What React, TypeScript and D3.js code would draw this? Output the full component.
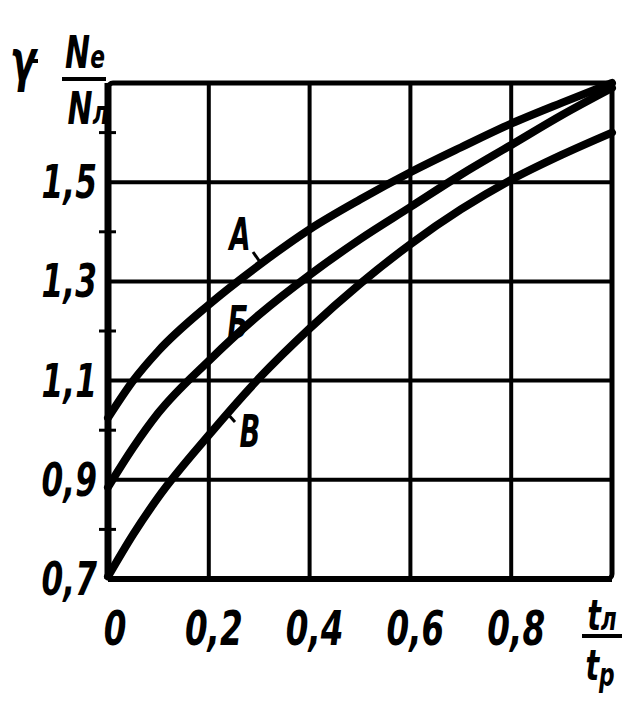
import React from 'react';
import * as d3 from 'd3';

// Relative time share t_л / t_р
const xValues = [0, 0.05, 0.1, 0.2, 0.3, 0.4, 0.5, 0.6, 0.7, 0.8, 0.9, 1.0];
// γ = Ne / Nл for each curve
const curveA = [1.025, 1.1, 1.16, 1.253, 1.333, 1.405, 1.465, 1.52, 1.57, 1.618, 1.66, 1.70];
const curveB6 = [0.885, 0.965, 1.035, 1.14, 1.233, 1.313, 1.385, 1.45, 1.515, 1.575, 1.635, 1.69];
const curveV = [0.705, 0.79, 0.865, 0.99, 1.105, 1.205, 1.295, 1.375, 1.445, 1.505, 1.555, 1.6];

const xTicks = [0, 0.2, 0.4, 0.6, 0.8, 1.0];
const xTickLabels = ['0', '0,2', '0,4', '0,6', '0,8'];
const yTicks = [0.7, 0.9, 1.1, 1.3, 1.5, 1.7];
const yTickLabels = ['0,7', '0,9', '1,1', '1,3', '1,5'];
const yMinorTicks = [0.8, 1.0, 1.2, 1.4, 1.6];

const series = [
  { name: 'A', values: curveA },
  { name: 'Б', values: curveB6 },
  { name: 'В', values: curveV },
];

const W = 644;
const H = 717;

const font = {
  fontFamily: '"DejaVu Sans", sans-serif',
  fontWeight: 'bold' as const,
  fontStyle: 'italic' as const,
};

// condensed italic text like the old print
const Txt: React.FC<{ x: number; y: number; size: number; anchor?: string; sx?: number; children: React.ReactNode }> = ({ x, y, size, anchor = 'middle', sx = 0.68, children }) => (
  <text
    transform={`translate(${x},${y}) scale(${sx},1)`}
    fontSize={size}
    textAnchor={anchor}
    fill="#000"
    style={font}
  >
    {children}
  </text>
);

const App: React.FC = () => {
  const x = d3.scaleLinear().domain([0, 1]).range([108, 612]);
  const y = d3.scaleLinear().domain([0.7, 1.7]).range([579, 83]);

  const line = d3
    .line<number>()
    .x((_, i) => x(xValues[i]))
    .y((d) => y(d))
    .curve(d3.curveMonotoneX);

  return (
    <div style={{ position: 'absolute', left: 0, top: 0, background: '#fff' }}>
      <svg width={W} height={H} style={{ display: 'block' }}>
        <rect width={W} height={H} fill="#fff" />

        {/* grid */}
        <g stroke="#000" strokeWidth={4}>
          {xTicks.slice(1, -1).map((t) => (
            <line key={'gx' + t} x1={x(t)} x2={x(t)} y1={y(1.7)} y2={y(0.7)} />
          ))}
          {yTicks.slice(1, -1).map((t) => (
            <line key={'gy' + t} x1={x(0)} x2={x(1)} y1={y(t)} y2={y(t)} />
          ))}
        </g>

        {/* frame */}
        <rect
          x={x(0)}
          y={y(1.7)}
          width={x(1) - x(0)}
          height={y(0.7) - y(1.7)}
          rx={5}
          fill="none"
          stroke="#000"
          strokeWidth={5}
        />
        <line x1={x(0)} x2={x(0)} y1={y(1.7)} y2={y(0.7)} stroke="#000" strokeWidth={7} />
        <line x1={x(0)} x2={x(1)} y1={y(0.7)} y2={y(0.7)} stroke="#000" strokeWidth={6} />

        {/* minor ticks on the y axis */}
        <g stroke="#000" strokeWidth={3}>
          {yMinorTicks.map((t) => (
            <line key={'m' + t} x1={x(0) - 9} x2={x(0) + 8} y1={y(t)} y2={y(t)} />
          ))}
        </g>

        {/* curves */}
        <g fill="none" stroke="#000" strokeWidth={8} strokeLinecap="round">
          {series.map((s) => (
            <path key={s.name} d={line(s.values) || ''} />
          ))}
        </g>

        {/* curve labels */}
        <Txt x={240} y={250} size={44} sx={0.62}>A</Txt>
        <line x1={253} y1={252} x2={260} y2={262} stroke="#000" strokeWidth={3} />
        <Txt x={238} y={338} size={44} sx={0.62}>Б</Txt>
        <Txt x={250} y={447} size={44} sx={0.62}>В</Txt>
        <line x1={226} y1={412} x2={235} y2={422} stroke="#000" strokeWidth={3} />

        {/* y tick labels */}
        {yTickLabels.map((l, i) => (
          <Txt key={'yl' + l} x={97} y={y(yTicks[i]) + 16} size={46} anchor="end">
            {l}
          </Txt>
        ))}

        {/* x tick labels */}
        {xTickLabels.map((l, i) => (
          <Txt key={'xl' + l} x={x(xTicks[i]) + (i === 0 ? 7 : 5)} y={645} size={48}>
            {l}
          </Txt>
        ))}

        {/* y axis title: γ = Ne / Nл */}
        <Txt x={23} y={80} size={56}>γ</Txt>
        <line x1={32} x2={38} y1={61} y2={61} stroke="#000" strokeWidth={4} />
        <Txt x={85} y={68} size={44}>
          N<tspan fontSize={32}>e</tspan>
        </Txt>
        <line x1={62} x2={106} y1={79} y2={79} stroke="#000" strokeWidth={4} />
        <Txt x={88} y={124} size={44}>
          N<tspan fontSize={32}>л</tspan>
        </Txt>

        {/* x axis title: tл / tр */}
        <Txt x={602} y={630} size={42}>
          t<tspan fontSize={32}>л</tspan>
        </Txt>
        <line x1={582} x2={622} y1={636} y2={636} stroke="#000" strokeWidth={4} />
        <Txt x={600} y={680} size={42}>
          t<tspan fontSize={32} dy={6}>р</tspan>
        </Txt>
      </svg>
    </div>
  );
};

export default App;
